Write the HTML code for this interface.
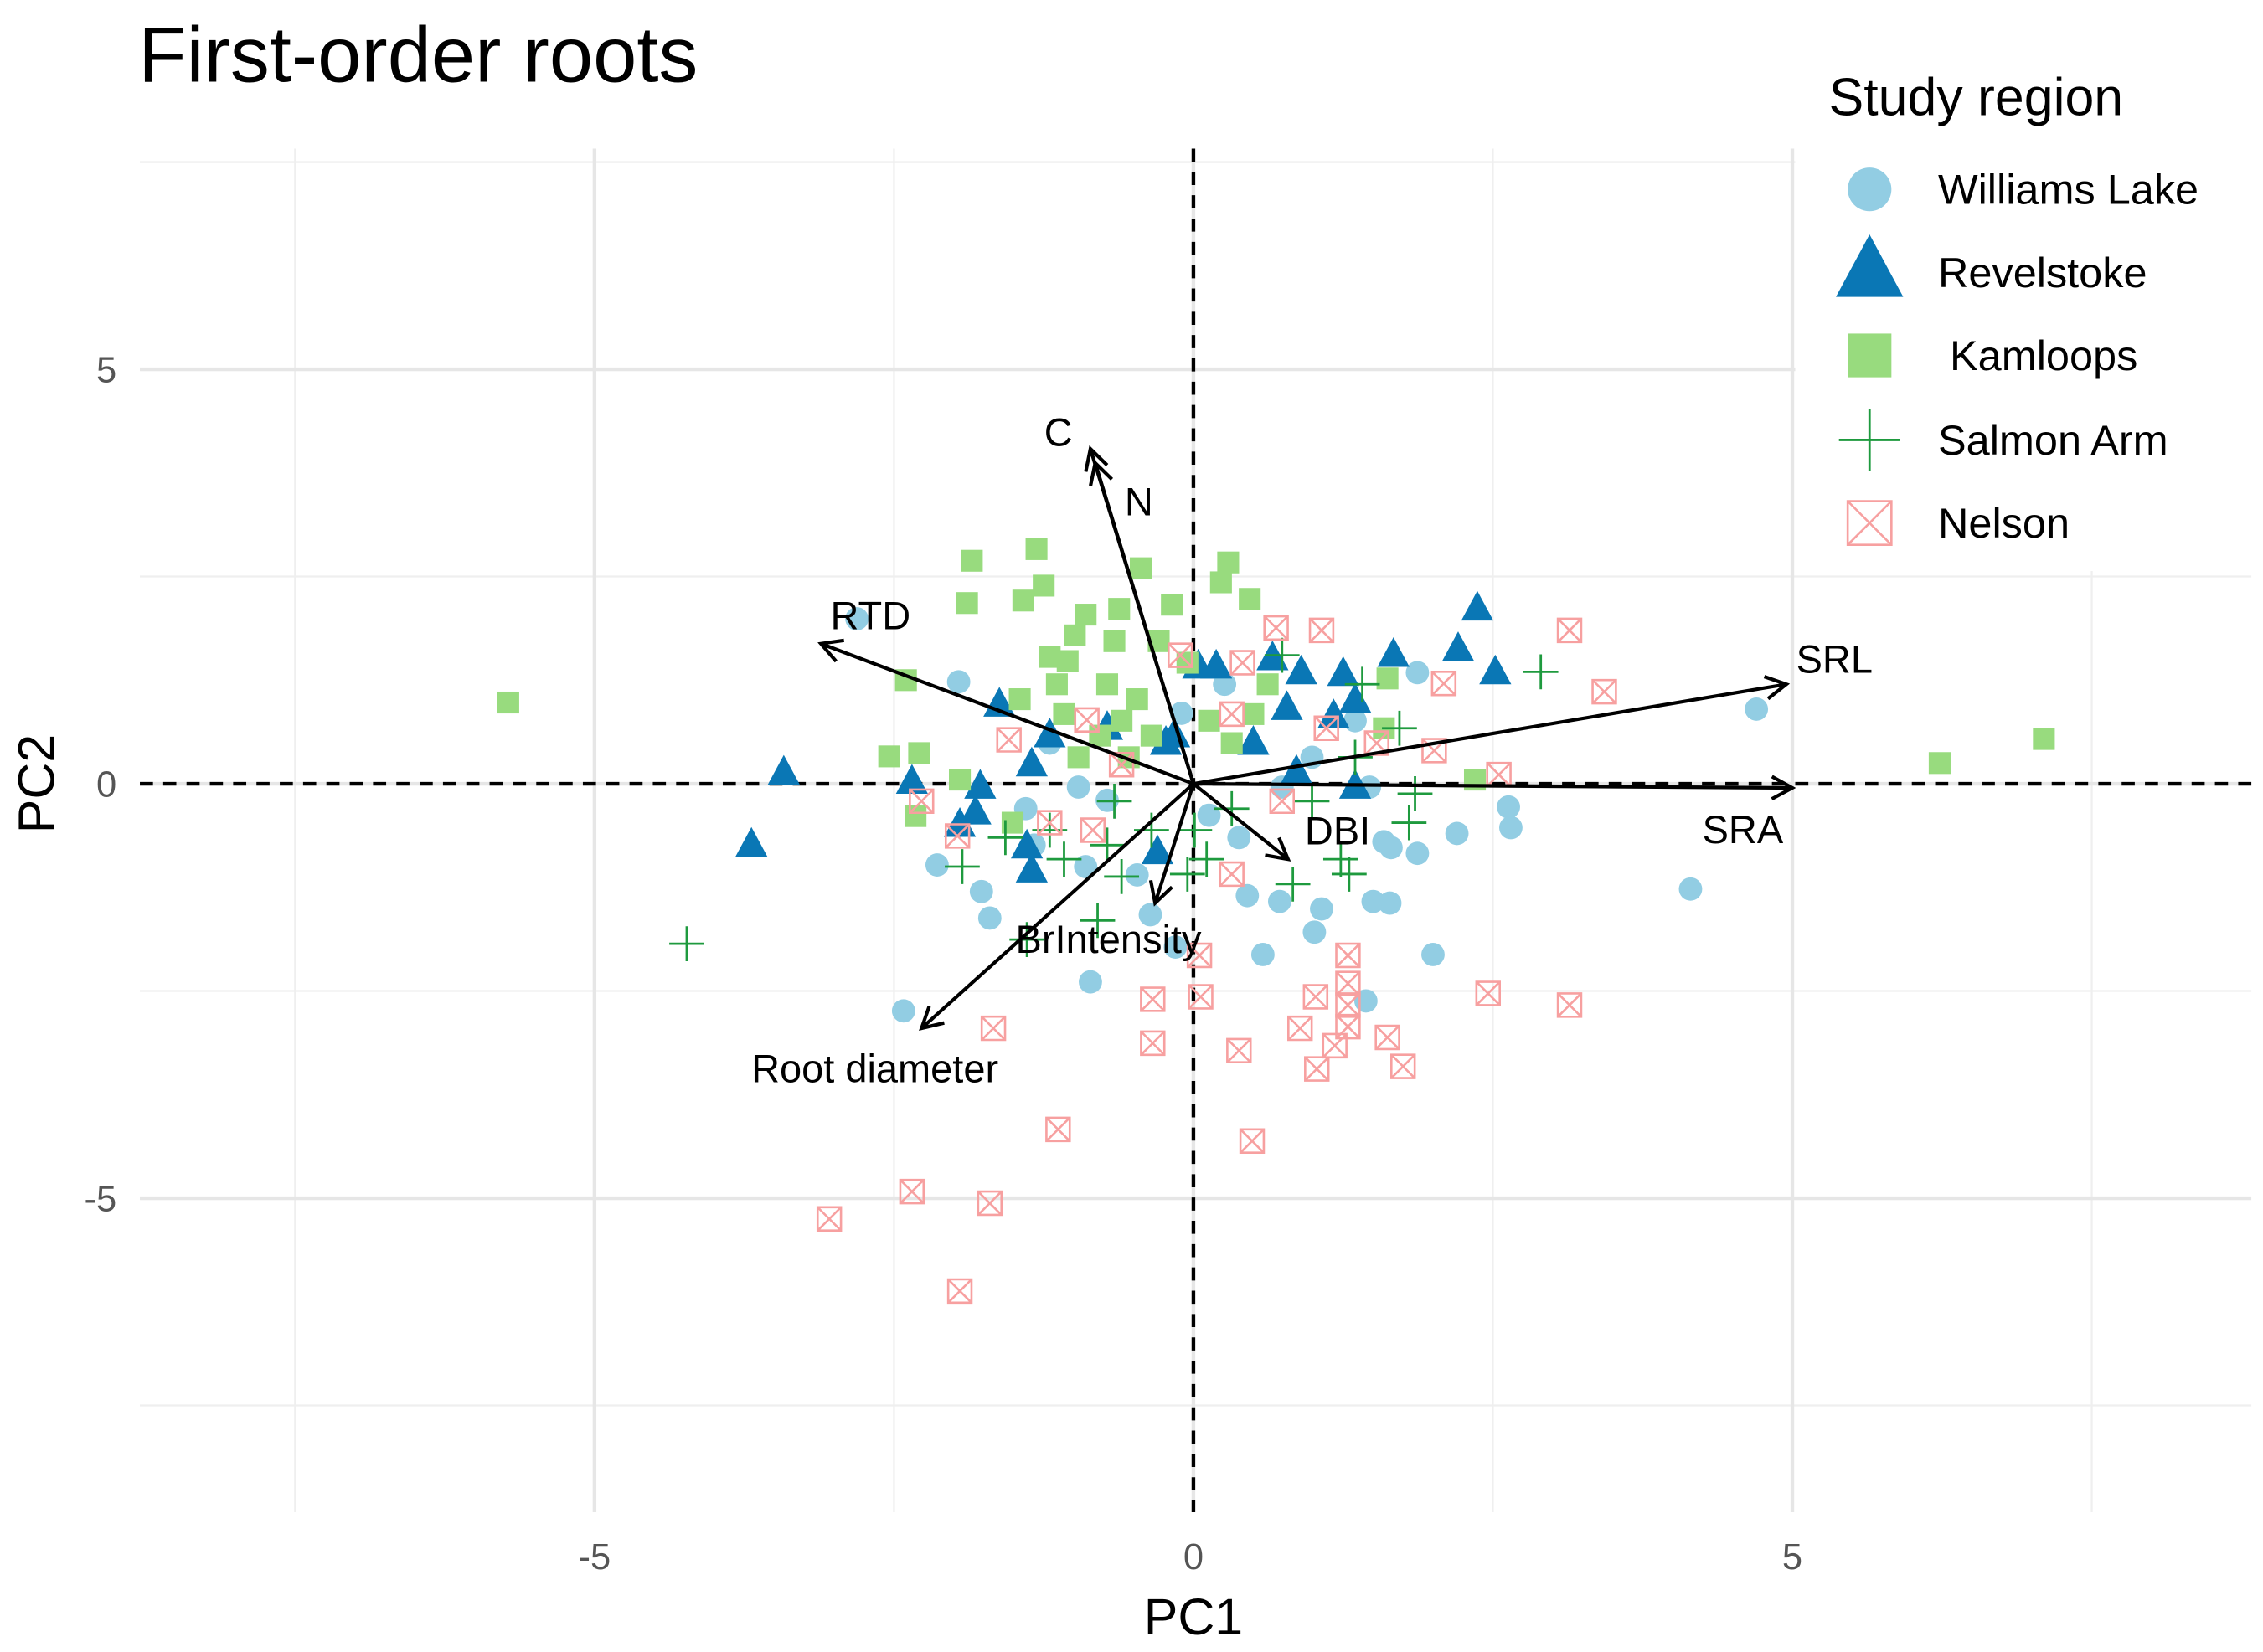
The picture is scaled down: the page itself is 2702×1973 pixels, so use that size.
<!DOCTYPE html>
<html><head><meta charset="utf-8"><style>
html,body{margin:0;padding:0;background:#fff}
svg{display:block;font-family:"Liberation Sans",sans-serif}
</style></head><body>
<svg id="chart" width="2702" height="1973" viewBox="0 0 1553 1134" preserveAspectRatio="none" xmlns="http://www.w3.org/2000/svg">
<rect width="1553" height="1134" fill="#fff"/>
<g id="grid"></g>
<g id="axes"></g>
<g id="pts"></g>
<g id="arrows"></g>
<text x="95" y="56" font-size="54" fill="#000">First-order roots</text>
<text x="819" y="1122" font-size="35" text-anchor="middle">PC1</text>
<text transform="translate(37,538) rotate(-90)" font-size="35" text-anchor="middle">PC2</text>
<g id="legend"></g>
</svg>
<script>
const williamsX=[-2.81,-1.96,-2.42,-2.14,-1.77,-1.7,-0.86,-0.36,-0.15,0.58,0.45,0.72,1.07,1.01,1.44,2.0,1.5,1.64,1.59,1.65,1.87,2.2,2.63,2.65,4.15,4.7,1.87,-1.2,-0.96,-1.4,-0.72,0.13,0.38,0.74,0.99,1.35,1.47,-0.1,0.26,-1.33,-0.47,-0.9];
const williamsY=[1.99,1.23,-2.74,-0.98,-1.3,-1.62,-2.39,-1.58,-1.97,-2.06,-1.35,-1.42,-1.51,-1.79,-2.62,-2.06,-1.42,-1.44,-0.7,-0.77,-0.84,-0.6,-0.28,-0.53,-1.27,0.9,1.34,0.49,-0.04,-0.3,-0.2,-0.38,-0.65,-0.04,0.32,0.76,-0.04,0.85,1.2,-0.74,-1.1,-1.0];
const revelX=[-3.42,-3.69,-2.35,-1.78,-1.95,-1.82,-1.35,-1.39,-1.35,-1.2,-1.62,-0.23,-0.16,-0.3,0.04,0.19,0.66,0.9,0.78,1.17,1.25,1.35,1.67,2.21,2.37,2.52,1.35,0.5,0.86,-0.72];
const revelY=[0.13,-0.74,0.02,-0.04,-0.5,-0.35,-1.05,-0.76,0.23,0.58,0.95,0.49,0.58,-0.83,1.41,1.41,1.51,1.34,0.91,0.81,1.32,1.0,1.55,1.62,2.11,1.34,-0.04,0.49,0.14,0.67];
const kamX=[-5.72,6.23,7.1,-2.54,-2.29,-2.4,-2.32,-1.95,-1.85,-1.31,-1.25,-1.42,-1.89,-0.99,-1.2,-1.05,-0.9,-0.62,-0.44,-0.18,0.23,0.29,0.47,1.62,2.35,1.59,-1.45,-1.14,-0.72,-0.47,-0.6,-0.35,-0.78,0.13,0.32,0.5,0.62,-0.05,-0.96,-0.54,-0.29,-0.66,-1.08,-1.51];
const kamY=[0.98,0.25,0.54,0.33,0.37,1.25,-0.39,0.05,2.69,2.83,2.39,2.21,2.18,1.79,1.53,1.48,2.04,2.11,2.6,2.16,2.43,2.67,2.23,1.27,0.05,0.67,1.02,1.2,1.2,1.02,0.76,0.58,0.58,0.76,0.49,0.84,1.2,1.46,0.32,0.32,1.72,1.72,0.84,-0.47];
const salmonX=[-4.23,2.9,1.8,1.85,1.23,1.3,0.83,0.11,-0.6,-0.8,-1.39,-1.93,-1.57,-1.2,-1.08,-0.66,-0.35,-0.05,0.32,1.35,1.72,0.74,1.41,0.99,-0.72,0.01];
const salmonY=[-1.93,1.35,-0.47,-0.12,-0.91,-1.09,-1.21,-0.91,-1.12,-1.65,-1.88,-1.0,-0.65,-0.56,-0.91,-0.21,-0.56,-1.09,-0.3,0.32,0.67,1.55,1.2,-0.21,-0.74,-0.56];
const nelsonX=[-3.04,-2.35,-1.7,-1.95,-1.13,0.49,-1.67,-0.34,-0.34,0.06,0.05,0.38,0.89,1.03,1.18,1.29,1.29,1.29,1.29,1.02,1.62,1.75,2.46,3.14,0.69,1.07,3.14,3.43,2.09,2.01,2.55,-1.54,-0.89,-1.97,-2.27,-1.2,-0.84,-0.11,0.41,0.32,0.32,0.74,1.11,1.53,-0.6];
const nelsonY=[-5.25,-4.92,-5.06,-6.12,-4.17,-4.31,-2.95,-3.13,-2.6,-2.57,-2.07,-3.22,-2.95,-3.44,-3.16,-2.93,-2.67,-2.41,-2.07,-2.57,-3.06,-3.41,-2.53,-2.67,1.88,1.85,1.85,1.11,1.21,0.4,0.11,0.53,0.77,-0.63,-0.21,-0.47,-0.56,1.55,1.46,0.84,-1.09,-0.21,0.67,0.49,0.23];
const arrowNames=["C","N","RTD","SRL","SRA","DBI","BrIntensity","Root diameter"];
const arrowX=[-0.86,-0.82,-3.11,4.95,5.0,0.79,-0.32,-2.27];
const arrowY=[4.04,3.87,1.69,1.2,-0.05,-0.91,-1.44,-2.95];
const xTicks=[-5,0,5];
const yTicks=[-5,0,5];
const xMinor=[-7.5,-2.5,2.5,7.5];
const yMinor=[-7.5,-2.5,2.5,7.5];

const NS="http://www.w3.org/2000/svg";
const sx=v=>819+v*82.2;
const sy=v=>538-v*56.9;
const PL=96,PR=1545,PT=102,PB=1038;
function mk(tag,attrs,parent){const e=document.createElementNS(NS,tag);for(const k in attrs)e.setAttribute(k,attrs[k]);parent.appendChild(e);return e;}
const grid=document.getElementById('grid');
xMinor.forEach(v=>{const l=mk('line',{x1:sx(v),x2:sx(v),y1:PT,y2:PB,stroke:'#efefef','stroke-width':1.3},grid);

});
yMinor.forEach(v=>{const l=mk('line',{x1:PL,x2:PR,y1:sy(v),y2:sy(v),stroke:'#efefef','stroke-width':1.3},grid);

});
xTicks.forEach(v=>{const l=mk('line',{x1:sx(v),x2:sx(v),y1:PT,y2:PB,stroke:'#e6e6e6','stroke-width':2.5},grid);


const t=mk('text',{x:sx(v),y:1077,'font-size':25,fill:'#555','text-anchor':'middle'},grid);t.textContent=v;

});
yTicks.forEach(v=>{const l=mk('line',{x1:PL,x2:PR,y1:sy(v),y2:sy(v),stroke:'#e6e6e6','stroke-width':2.5},grid);


const t=mk('text',{x:80,y:sy(v)+9,'font-size':25,fill:'#555','text-anchor':'end'},grid);t.textContent=v;

});
const axes=document.getElementById('axes');
const h=mk('line',{x1:PL,x2:PR,y1:sy(0),y2:sy(0),stroke:'#000','stroke-width':2.5,'stroke-dasharray':'9,7'},axes);


const vv=mk('line',{x1:sx(0),x2:sx(0),y1:PT,y2:PB,stroke:'#000','stroke-width':2.5,'stroke-dasharray':'9,7'},axes);



const pts=document.getElementById('pts');
function circle(x,y,r,p){return mk('circle',{cx:x,cy:y,r:r,fill:'#92cde3'},p);}
function tri(x,y,s,p){return mk('polygon',{points:`${x},${y-s*0.62} ${x-s*0.55},${y+s*0.4} ${x+s*0.55},${y+s*0.4}`,fill:'#0a77b5'},p);}
function sq(x,y,s,p){return mk('rect',{x:x-s/2,y:y-s/2,width:s,height:s,fill:'#98db7e'},p);}
function plus(x,y,s,p){return mk('path',{d:`M${x-s/2},${y}H${x+s/2}M${x},${y-s/2}V${y+s/2}`,stroke:'#1e9a3e','stroke-width':1.6,fill:'none'},p);}
function boxx(x,y,s,p){const h=s/2;return mk('path',{d:`M${x-h},${y-h}h${s}v${s}h${-s}zM${x-h},${y-h}L${x+h},${y+h}M${x+h},${y-h}L${x-h},${y+h}`,stroke:'#f7a0a0','stroke-width':1.5,fill:'none'},p);}
williamsX.forEach((v,i)=>{const e=circle(sx(v),sy(williamsY[i]),8,pts);

});
revelX.forEach((v,i)=>{const e=tri(sx(v),sy(revelY[i]),20,pts);

});
kamX.forEach((v,i)=>{const e=sq(sx(v),sy(kamY[i]),15,pts);

});
salmonX.forEach((v,i)=>{const e=plus(sx(v),sy(salmonY[i]),24,pts);

});
nelsonX.forEach((v,i)=>{const e=boxx(sx(v),sy(nelsonY[i]),16,pts);

});

const ar=document.getElementById('arrows');
const labOff=[[-22,-12],[30,26],[34,-20],[33,-18],[-34,28],[34,-20],[-32,24],[-32,27]];
arrowX.forEach((v,i)=>{const x2=sx(v),y2=sy(arrowY[i]),x1=sx(0),y1=sy(0);
const a=Math.atan2(y2-y1,x2-x1),L=16,w=0.5;
const e=mk('path',{d:`M${x1},${y1}L${x2},${y2}M${x2-L*Math.cos(a-w)},${y2-L*Math.sin(a-w)}L${x2},${y2}L${x2-L*Math.cos(a+w)},${y2-L*Math.sin(a+w)}`,stroke:'#000','stroke-width':2.4,fill:'none'},ar);


const t=mk('text',{x:x2+labOff[i][0],y:y2+labOff[i][1]+10,'font-size':27,'text-anchor':'middle',fill:'#000'},ar);t.textContent=arrowNames[i];

});

const lg=document.getElementById('legend');
mk('rect',{x:1232,y:0,width:321,height:392,fill:'#fff'},lg);
const tt=mk('text',{x:1255,y:79,'font-size':36},lg);tt.textContent='Study region';


const legNames=['Williams Lake','Revelstoke',' Kamloops','Salmon Arm','Nelson'];
const legY=[130,187,244,302,359];
const sh=[(x,y)=>circle(x,y,15,lg),(x,y)=>tri(x,y,42,lg),(x,y)=>sq(x,y,30,lg),(x,y)=>plus(x,y,42,lg),(x,y)=>boxx(x,y,30,lg)];
legNames.forEach((n,i)=>{const s=sh[i](1283,legY[i]);


const t=mk('text',{x:1330,y:legY[i]+10,'font-size':29,'xml:space':'preserve'},lg);t.textContent=n;t.style.whiteSpace='pre';

});
</script>
</body></html>
